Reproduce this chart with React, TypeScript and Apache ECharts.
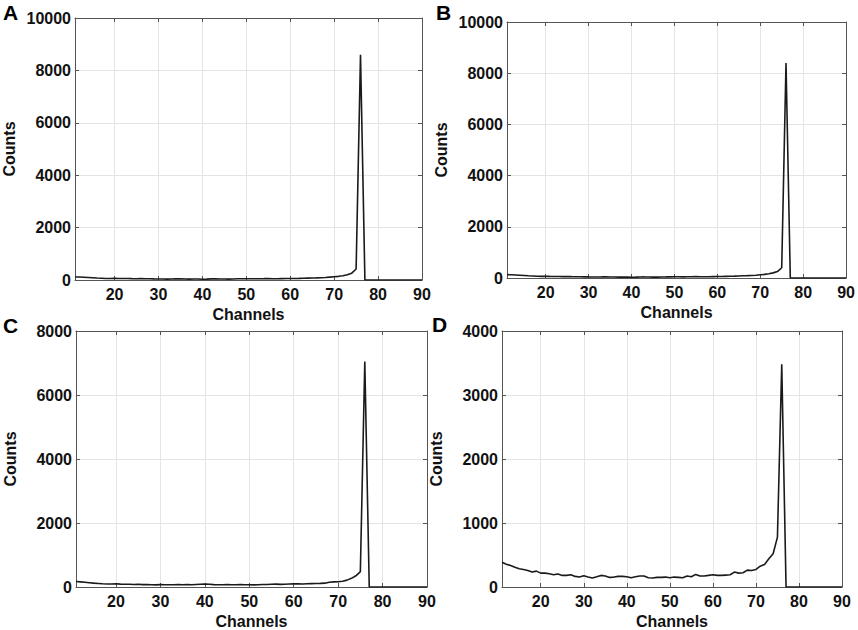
import React, { useEffect, useRef } from "react";
import * as echarts from "echarts";

const FIRST_CHANNEL = 11;
const LAST_CHANNEL = 90;
const xTickValues = [20, 30, 40, 50, 60, 70, 80, 90];

// Counts per channel, channels 11..90
const countsA = [
  115, 112, 105, 95, 85, 75, 68, 60, 58, 62,
  58, 55, 55, 52, 50, 52, 48, 45, 42, 40,
  38, 35, 40, 45, 42, 38, 35, 40, 38, 30,
  35, 42, 45, 40, 38, 35, 40, 45, 48, 50,
  48, 45, 50, 52, 55, 50, 48, 52, 55, 58,
  60, 62, 65, 70, 75, 80, 88, 95, 110, 125,
  140, 165, 200, 260, 420, 8600, 0, 0, 0, 0,
  0, 0, 0, 0, 0, 0, 0, 0, 0, 0,
];

const countsB = [
  130, 125, 115, 105, 95, 85, 78, 70, 65, 68,
  62, 60, 58, 55, 55, 52, 50, 48, 45, 42,
  40, 38, 42, 45, 40, 38, 35, 38, 36, 32,
  35, 40, 42, 38, 36, 34, 38, 42, 45, 48,
  46, 44, 48, 50, 52, 48, 46, 50, 54, 58,
  60, 64, 68, 72, 78, 85, 92, 100, 110, 125,
  140, 165, 200, 250, 400, 8400, 0, 0, 0, 0,
  0, 0, 0, 0, 0, 0, 0, 0, 0, 0,
];

const countsC = [
  170, 160, 150, 135, 120, 110, 100, 95, 95, 100,
  90, 85, 88, 80, 85, 75, 80, 70, 65, 75,
  70, 68, 72, 75, 70, 78, 72, 80, 85, 90,
  85, 75, 70, 72, 75, 70, 72, 75, 70, 68,
  65, 72, 78, 80, 85, 90, 82, 88, 95, 100,
  98, 95, 100, 105, 110, 112, 120, 150, 160, 165,
  180, 215, 270, 350, 480, 7050, 0, 0, 0, 0,
  0, 0, 0, 0, 0, 0, 0, 0, 0, 0,
];

const countsD = [
  388, 357, 336, 310, 285, 274, 259, 233, 248, 217,
  217, 207, 191, 202, 181, 181, 191, 166, 155, 176,
  155, 140, 160, 181, 171, 150, 155, 166, 166, 160,
  145, 160, 171, 171, 145, 140, 150, 150, 155, 145,
  155, 150, 145, 171, 160, 197, 171, 171, 181, 191,
  181, 181, 186, 191, 233, 217, 222, 264, 259, 274,
  326, 352, 440, 520, 780, 3482, 0, 0, 0, 0,
  0, 0, 0, 0, 0, 0, 0, 0, 0, 0,
];

const panelLetters = ["A", "B", "C", "D"];
const panelSeries = [countsA, countsB, countsC, countsD];
const yMaxes = [10000, 10000, 8000, 4000];
const ySteps = [2000, 2000, 2000, 1000];

// Layout (pixels)
const gridBoxes = [
  { left: 75, top: 18, width: 347, height: 262 },
  { left: 507, top: 22, width: 340, height: 256 },
  { left: 76, top: 331, width: 351, height: 257 },
  { left: 502, top: 331, width: 340, height: 257 },
];
const letterPositions = [
  [3, 2],
  [436, 2],
  [3, 315],
  [432, 314],
];

const FONT = "'Liberation Sans', Arial, Helvetica, sans-serif";
const AXIS_COLOR = "#555";
const TEXT_COLOR = "#111";

export default function App() {
  const ref = useRef<HTMLDivElement>(null);

  useEffect(() => {
    if (!ref.current) return;
    const chart = echarts.init(ref.current, undefined, { renderer: "svg" });

    const labelStyle = {
      fontSize: 16,
      fontWeight: "bold" as const,
      color: TEXT_COLOR,
      fontFamily: FONT,
    };

    const grid: any[] = [];
    const xAxis: any[] = [];
    const yAxis: any[] = [];
    const series: any[] = [];
    const graphic: any[] = [];

    panelSeries.forEach((vals, i) => {
      grid.push({ ...gridBoxes[i], containLabel: false });
      xAxis.push({
        type: "value",
        gridIndex: i,
        position: "bottom",
        min: FIRST_CHANNEL,
        max: LAST_CHANNEL,
        axisLine: { show: true, onZero: false, lineStyle: { color: AXIS_COLOR, width: 1 } },
        axisTick: {
          show: true,
          inside: true,
          length: 4,
          customValues: xTickValues,
          lineStyle: { color: AXIS_COLOR },
        },
        axisLabel: {
          ...labelStyle,
          margin: 6,
          customValues: xTickValues,
          formatter: (v: number) => String(v),
        },
        splitLine: { show: true, lineStyle: { color: "#e4e4e4", width: 1 } },
        name: "Channels",
        nameLocation: "middle",
        nameGap: 26,
        nameTextStyle: labelStyle,
      });
      xAxis.push({
        type: "value",
        gridIndex: i,
        position: "top",
        min: FIRST_CHANNEL,
        max: LAST_CHANNEL,
        axisLine: { show: true, onZero: false, lineStyle: { color: AXIS_COLOR, width: 1 } },
        axisTick: {
          show: true,
          inside: true,
          length: 4,
          customValues: xTickValues,
          lineStyle: { color: AXIS_COLOR },
        },
        axisLabel: { show: false },
        splitLine: { show: false },
      });
      yAxis.push({
        type: "value",
        gridIndex: i,
        position: "left",
        min: 0,
        max: yMaxes[i],
        interval: ySteps[i],
        axisLine: { show: true, onZero: false, lineStyle: { color: AXIS_COLOR, width: 1 } },
        axisTick: { show: true, inside: true, length: 4, lineStyle: { color: AXIS_COLOR } },
        axisLabel: { ...labelStyle, margin: 4, formatter: (v: number) => String(v) },
        splitLine: { show: true, lineStyle: { color: "#e4e4e4", width: 1 } },
        name: "Counts",
        nameLocation: "middle",
        nameGap: 58,
        nameTextStyle: labelStyle,
      });
      yAxis.push({
        type: "value",
        gridIndex: i,
        position: "right",
        min: 0,
        max: yMaxes[i],
        interval: ySteps[i],
        axisLine: { show: true, onZero: false, lineStyle: { color: AXIS_COLOR, width: 1 } },
        axisTick: { show: true, inside: true, length: 4, lineStyle: { color: AXIS_COLOR } },
        axisLabel: { show: false },
        splitLine: { show: false },
      });
      series.push({
        type: "line",
        xAxisIndex: i * 2,
        yAxisIndex: i * 2,
        data: vals.map((v, k) => [FIRST_CHANNEL + k, v]),
        showSymbol: false,
        symbol: "none",
        lineStyle: { color: "#1a1a1a", width: 1.6 },
        z: 3,
      });
      graphic.push({
        type: "text",
        left: letterPositions[i][0],
        top: letterPositions[i][1],
        style: {
          text: panelLetters[i],
          fontSize: 21,
          fontWeight: "bold",
          fill: "#000",
          fontFamily: FONT,
        },
      });
    });

    chart.setOption({
      animation: false,
      backgroundColor: "#fff",
      grid,
      xAxis,
      yAxis,
      series,
      graphic,
    });

    return () => chart.dispose();
  }, []);

  return (
    <div
      ref={ref}
      style={{ position: "fixed", left: 0, top: 0, width: 858, height: 630 }}
    />
  );
}
